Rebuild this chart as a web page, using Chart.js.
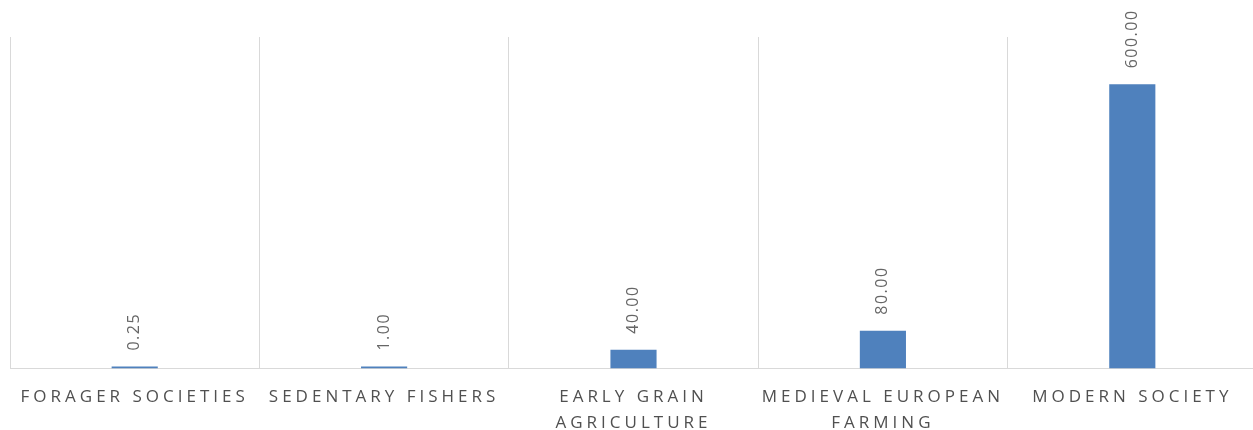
<!DOCTYPE html>
<html>
<head>
<meta charset="utf-8">
<script src="https://cdn.jsdelivr.net/npm/chart.js@4/dist/chart.umd.min.js"></script>
<style>
  html, body { margin: 0; padding: 0; background: #fff; overflow: hidden; }
  #wrap { width: 1257px; height: 438px; }
</style>
</head>
<body>
<div id="wrap"><canvas id="chart"></canvas></div>
<script>
const categories = [
  ['FORAGER SOCIETIES'],
  ['SEDENTARY FISHERS'],
  ['EARLY GRAIN', 'AGRICULTURE'],
  ['MEDIEVAL EUROPEAN', 'FARMING'],
  ['MODERN SOCIETY']
];
const values = [0.25, 1, 40, 80, 600];
const yMax = 700;

// letter spacing for the axis labels (canvas resets it on resize)
const spacing = {
  id: 'spacing',
  beforeLayout(chart) { chart.ctx.letterSpacing = '4px'; },
  beforeDraw(chart) { chart.ctx.letterSpacing = '4px'; }
};

// rotated value labels above each bar
const barLabels = {
  id: 'barLabels',
  afterDatasetsDraw(chart) {
    const ctx = chart.ctx;
    const meta = chart.getDatasetMeta(0);
    ctx.save();
    ctx.letterSpacing = '1.5px';
    ctx.font = '16px "Open Sans"';
    ctx.fillStyle = '#666666';
    ctx.textAlign = 'left';
    ctx.textBaseline = 'middle';
    meta.data.forEach((bar, i) => {
      ctx.save();
      ctx.translate(bar.x, bar.y - 16);
      ctx.rotate(-Math.PI / 2);
      ctx.fillText(values[i].toFixed(2), 0, 0);
      ctx.restore();
    });
    ctx.restore();
  }
};

new Chart(document.getElementById('chart'), {
  type: 'bar',
  data: {
    labels: categories,
    datasets: [{
      data: values,
      backgroundColor: '#4F81BD',
      borderWidth: 0,
      minBarLength: 2,
      categoryPercentage: 1,
      barPercentage: 0.185
    }]
  },
  options: {
    responsive: true,
    maintainAspectRatio: false,
    animation: false,
    layout: { padding: { left: 10, top: 37, right: 0, bottom: -14 } },
    plugins: {
      legend: { display: false },
      tooltip: { enabled: false }
    },
    scales: {
      x: {
        grid: { color: '#D9D9D9', lineWidth: 1, drawTicks: false, offset: true },
        border: { color: '#D9D9D9', width: 1 },
        ticks: {
          color: '#505050',
          font: { family: '"Open Sans"', size: 17, weight: '500', lineHeight: 1.57 },
          padding: 15,
          maxRotation: 0,
          autoSkip: false
        }
      },
      y: {
        display: false,
        min: 0,
        max: yMax
      }
    }
  },
  plugins: [spacing, barLabels]
});
</script>
</body>
</html>
